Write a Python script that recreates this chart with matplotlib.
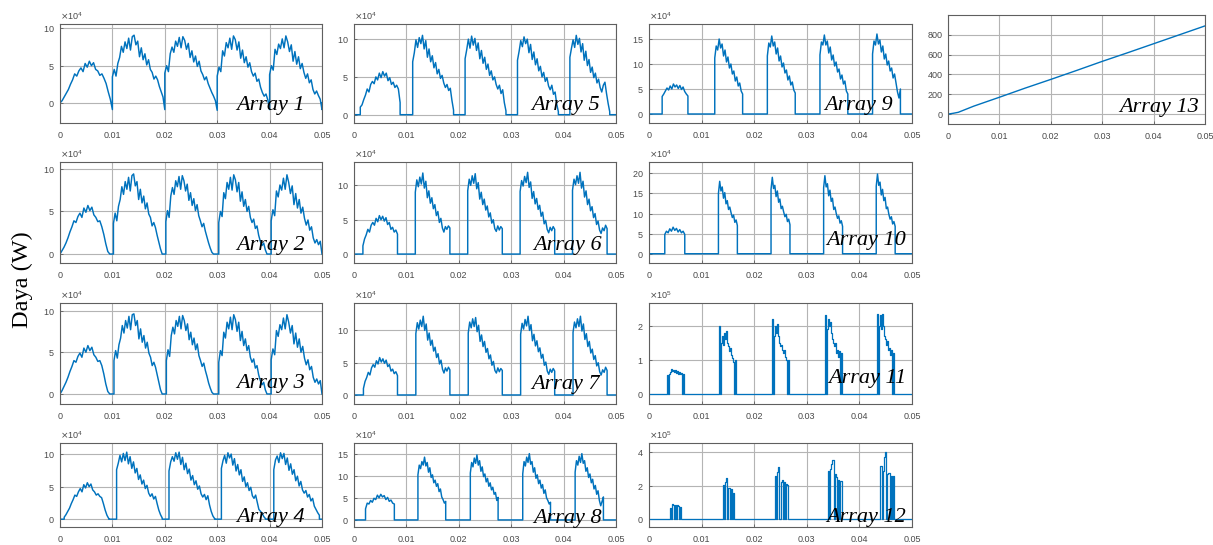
import numpy as np
import matplotlib
matplotlib.use("Agg")
import matplotlib.pyplot as plt
from matplotlib.ticker import ScalarFormatter


# Power of each PV array over time. Values of arrays 1-10 are in units of 1e4 W,
# arrays 11-12 in units of 1e5 W, array 13 in W. Each array is a list of humps:
# a hump starts/stops at the given time (s) and holds the listed samples.
X_TICKS = [0.0, 0.01, 0.02, 0.03, 0.04, 0.05]
X_TICK_LABELS = ["0", "0.01", "0.02", "0.03", "0.04", "0.05"]

A1_STARTS = [0.0, 0.0100, 0.0200, 0.0300, 0.0400]
A1_STOPS = [0.0100, 0.0200, 0.0300, 0.0400, 0.0500]
A1_HUMPS = [
    [0.0, 0.3, 0.8, 1.3, 1.8, 2.5, 3.1, 3.9, 3.6, 4.3, 4.7, 4.2, 5.3, 4.8, 5.6, 5.0, 5.4, 4.5, 4.3, 3.7, 3.9, 3.3, 2.6, 1.5, 0.5, -0.9],
    [3.5, 4.5, 3.6, 5.3, 6.1, 7.6, 6.8, 8.2, 7.3, 8.7, 7.1, 8.9, 9.1, 7.8, 8.3, 6.2, 7.4, 5.8, 6.6, 5.1, 5.8, 4.5, 4.1, 3.2, 3.6, 3.1, 2.2, 1.5, 0.8, -0.9],
    [4.0, 5.0, 4.2, 6.6, 7.5, 6.8, 8.3, 7.6, 8.8, 7.4, 8.9, 8.4, 7.2, 8.0, 6.1, 7.0, 5.5, 6.3, 4.9, 5.6, 4.3, 3.8, 3.1, 3.5, 2.6, 2.0, 1.4, 0.9, 0.3, -1.0],
    [3.6, 4.8, 4.2, 7.0, 6.3, 8.1, 7.4, 8.7, 7.2, 9.0, 8.5, 7.1, 8.2, 6.0, 7.1, 5.4, 6.2, 4.8, 5.4, 4.2, 3.6, 4.0, 2.9, 3.2, 2.1, 1.4, 0.9, 1.2, 0.4, -0.9],
    [3.8, 5.0, 4.4, 7.2, 6.5, 7.9, 7.3, 8.6, 7.4, 9.0, 8.2, 6.9, 7.8, 5.6, 6.9, 5.2, 6.2, 4.6, 5.3, 4.1, 3.3, 3.9, 2.7, 3.1, 1.8, 1.2, 1.6, 1.0, 0.5, -0.9],
]

A2_STARTS = [0.0, 0.0102, 0.0202, 0.0303, 0.0403]
A2_STOPS = [0.0095, 0.0195, 0.0293, 0.0395, 0.0500]
A2_HUMPS = [
    [0.0, 0.4, 0.8, 1.3, 1.9, 2.6, 3.2, 3.9, 3.7, 4.4, 4.8, 4.3, 5.4, 4.9, 5.7, 5.1, 5.5, 4.6, 4.3, 3.8, 3.9, 3.2, 2.3, 1.2, 0.3, 0.0],
    [3.6, 4.8, 3.9, 5.6, 6.4, 7.9, 7.0, 8.5, 7.6, 9.0, 7.4, 9.2, 9.4, 8.0, 8.5, 6.4, 7.6, 6.0, 6.8, 5.3, 6.0, 4.7, 4.3, 3.3, 3.7, 3.1, 2.2, 1.4, 0.6, 0.0],
    [3.8, 5.1, 4.3, 6.8, 7.8, 7.0, 8.6, 7.9, 9.1, 7.6, 9.2, 8.6, 7.4, 8.2, 6.3, 7.2, 5.7, 6.5, 5.1, 5.8, 4.5, 3.9, 3.2, 3.6, 2.7, 2.0, 1.3, 0.7, 0.2, 0.0],
    [3.7, 5.0, 4.4, 7.2, 6.5, 8.4, 7.6, 9.0, 7.5, 9.3, 8.7, 7.3, 8.4, 6.2, 7.3, 5.6, 6.4, 5.0, 5.6, 4.3, 3.7, 4.1, 3.0, 3.3, 2.2, 1.5, 1.0, 1.3, 0.5, 0.0],
    [3.9, 5.2, 4.5, 7.4, 6.7, 8.1, 7.5, 8.9, 7.6, 9.3, 8.4, 7.1, 8.0, 5.8, 7.1, 5.4, 6.4, 4.8, 5.5, 4.2, 3.4, 4.0, 2.8, 3.2, 1.9, 1.3, 1.7, 1.1, 1.5, 0.0],
]

A3_STARTS = [0.0, 0.0103, 0.0203, 0.0303, 0.0403]
A3_STOPS = [0.0095, 0.0195, 0.0293, 0.0395, 0.0500]
A3_HUMPS = [
    [0.0, 0.4, 0.9, 1.4, 2.0, 2.7, 3.3, 4.0, 3.8, 4.5, 4.9, 4.4, 5.5, 5.0, 5.8, 5.2, 5.6, 4.7, 4.4, 3.9, 4.0, 3.4, 2.4, 1.2, 0.3, 0.0],
    [4.0, 5.2, 4.3, 5.9, 6.7, 8.2, 7.3, 8.8, 7.9, 9.3, 7.7, 9.5, 9.6, 8.2, 8.8, 6.6, 7.8, 6.2, 7.0, 5.5, 6.2, 4.9, 4.4, 3.4, 3.8, 3.2, 2.3, 1.4, 0.5, 0.0],
    [4.0, 5.3, 4.5, 7.0, 8.0, 7.2, 8.8, 8.1, 9.3, 7.8, 9.4, 8.8, 7.6, 8.4, 6.5, 7.4, 5.9, 6.7, 5.3, 6.0, 4.6, 4.0, 3.3, 3.7, 2.8, 2.1, 1.3, 0.7, 0.2, 0.0],
    [3.8, 5.2, 4.6, 7.4, 6.7, 8.6, 7.8, 9.2, 7.7, 9.5, 8.9, 7.5, 8.6, 6.4, 7.5, 5.8, 6.6, 5.2, 5.8, 4.4, 3.8, 4.2, 3.1, 3.4, 2.3, 1.6, 1.1, 1.4, 0.5, 0.0],
    [4.1, 5.4, 4.7, 7.6, 6.9, 8.3, 7.7, 9.1, 7.8, 9.5, 8.6, 7.3, 8.2, 6.0, 7.3, 5.6, 6.6, 5.0, 5.7, 4.3, 3.5, 4.1, 2.9, 3.3, 2.0, 1.4, 1.8, 1.2, 1.6, 0.0],
]

A4_STARTS = [0.0008, 0.0108, 0.0208, 0.0308, 0.0408]
A4_STOPS = [0.0093, 0.0195, 0.0295, 0.0392, 0.0495]
A4_HUMPS = [
    [0.3, 0.7, 1.2, 1.7, 2.4, 3.0, 3.7, 3.5, 4.2, 4.7, 4.2, 5.3, 4.8, 5.6, 5.0, 5.4, 4.5, 4.2, 3.7, 3.9, 3.5, 3.3, 2.4, 1.4, 0.6, 0.1],
    [7.6, 8.6, 9.8, 8.8, 10.1, 9.0, 10.3, 8.5, 9.6, 7.8, 8.8, 7.1, 7.8, 6.1, 6.8, 5.4, 6.0, 4.7, 5.2, 4.0, 3.5, 3.9, 3.1, 3.5, 2.4, 1.4, 0.7, 0.2],
    [7.4, 8.8, 9.6, 8.9, 10.2, 9.2, 10.3, 8.4, 9.5, 7.6, 8.6, 7.0, 7.7, 6.0, 6.7, 5.3, 5.9, 4.6, 5.1, 3.9, 3.4, 3.8, 3.0, 3.6, 2.2, 1.2, 0.5, 0.1],
    [7.8, 9.0, 9.8, 8.6, 10.2, 9.4, 10.0, 8.3, 9.3, 7.4, 8.4, 6.8, 7.6, 5.8, 6.5, 5.0, 5.6, 4.4, 4.9, 3.6, 3.2, 3.7, 2.6, 1.5, 1.2, 0.9, 0.4, 0.1],
    [7.6, 9.1, 9.7, 8.7, 10.2, 9.3, 10.1, 8.4, 9.4, 7.5, 8.5, 6.9, 7.6, 5.9, 6.6, 5.1, 5.8, 4.5, 4.0, 4.4, 3.4, 3.8, 2.8, 3.2, 2.0, 1.5, 1.0, 0.6],
]

A5_STARTS = [0.0012, 0.0112, 0.0212, 0.0312, 0.0412]
A5_STOPS = [0.0088, 0.0190, 0.0290, 0.0390, 0.0488]
A5_HUMPS = [
    [1.0, 1.3, 2.0, 2.6, 3.4, 3.0, 4.0, 4.4, 4.1, 5.0, 4.6, 5.5, 4.9, 5.7, 5.1, 5.5, 4.5, 4.9, 4.0, 4.3, 3.6, 3.9, 3.4, 1.6],
    [7.0, 8.2, 9.9, 8.9, 10.2, 9.4, 10.5, 8.7, 9.8, 7.6, 8.7, 7.0, 7.8, 6.2, 6.9, 5.4, 6.0, 4.8, 5.2, 4.2, 3.6, 4.0, 3.2, 3.5, 1.9, 0.6],
    [7.4, 8.6, 10.0, 8.8, 10.4, 9.2, 10.1, 8.5, 9.5, 7.4, 8.5, 6.8, 7.6, 6.0, 6.7, 5.2, 5.8, 4.6, 5.0, 4.0, 3.4, 3.9, 2.8, 3.3, 1.6, 0.5],
    [7.2, 8.4, 9.8, 9.0, 10.3, 9.4, 10.0, 8.2, 9.3, 7.3, 8.3, 6.6, 7.4, 5.8, 6.4, 5.0, 5.6, 4.4, 4.9, 3.8, 3.3, 3.9, 2.7, 3.0, 1.4, 0.4],
    [7.6, 8.8, 9.9, 8.9, 10.5, 9.3, 10.1, 8.3, 9.4, 7.2, 8.4, 6.5, 7.3, 5.6, 6.3, 4.9, 5.5, 4.2, 4.7, 3.6, 3.0, 3.9, 4.3, 2.8, 1.5, 0.4],
]

A6_STARTS = [0.0017, 0.0117, 0.0217, 0.0317, 0.0417]
A6_STOPS = [0.0083, 0.0183, 0.0283, 0.0383, 0.0483]
A6_HUMPS = [
    [1.2, 2.2, 2.8, 3.6, 3.2, 4.2, 4.6, 4.2, 5.2, 4.7, 5.6, 5.0, 5.5, 4.8, 5.3, 4.3, 4.6, 3.6, 3.9, 3.2, 3.5, 2.9],
    [9.0, 10.8, 9.8, 11.2, 10.2, 11.8, 9.6, 10.6, 8.2, 9.2, 7.4, 8.2, 6.6, 7.2, 5.6, 6.2, 4.6, 5.2, 3.8, 3.2, 4.0, 3.6, 4.1, 3.8],
    [9.2, 10.9, 10.0, 11.4, 10.3, 11.7, 9.5, 10.4, 8.0, 9.0, 7.2, 8.0, 6.4, 7.0, 5.4, 6.0, 4.5, 5.0, 3.7, 3.3, 4.1, 3.5, 4.0, 3.7],
    [9.1, 10.7, 9.9, 11.3, 10.4, 11.9, 9.7, 10.5, 8.1, 9.1, 7.3, 8.1, 6.5, 7.1, 5.5, 6.1, 4.4, 4.9, 3.6, 3.1, 3.9, 3.4, 4.0, 3.6],
    [9.3, 10.9, 10.1, 11.4, 10.3, 11.9, 9.6, 10.6, 8.3, 9.2, 7.2, 8.0, 6.3, 6.9, 5.3, 5.9, 4.3, 4.8, 3.5, 3.0, 3.8, 3.4, 4.2, 3.7],
]

A7_STARTS = [0.0018, 0.0118, 0.0218, 0.0318, 0.0418]
A7_STOPS = [0.0083, 0.0183, 0.0283, 0.0383, 0.0483]
A7_HUMPS = [
    [1.0, 2.1, 2.7, 3.5, 3.1, 4.2, 4.7, 4.3, 5.3, 4.8, 5.8, 5.1, 5.6, 4.9, 5.4, 4.4, 4.7, 3.7, 4.0, 3.3, 3.6, 3.0],
    [9.5, 11.2, 10.2, 11.6, 10.6, 12.2, 10.0, 11.0, 8.5, 9.6, 7.7, 8.5, 6.8, 7.4, 5.8, 6.4, 4.8, 5.4, 4.0, 3.4, 4.2, 3.7, 4.3, 3.9],
    [9.6, 11.3, 10.4, 11.8, 10.6, 12.0, 9.8, 10.8, 8.3, 9.3, 7.5, 8.3, 6.6, 7.2, 5.6, 6.2, 4.6, 5.2, 3.8, 3.4, 4.2, 3.6, 4.1, 3.8],
    [9.4, 11.1, 10.2, 11.7, 10.7, 12.2, 10.0, 10.9, 8.4, 9.4, 7.6, 8.4, 6.7, 7.3, 5.7, 6.3, 4.6, 5.1, 3.7, 3.2, 4.0, 3.5, 4.1, 3.7],
    [9.7, 11.3, 10.4, 11.8, 10.6, 12.2, 9.9, 11.0, 8.6, 9.5, 7.5, 8.3, 6.5, 7.1, 5.5, 6.1, 4.5, 5.0, 3.6, 3.1, 3.9, 3.5, 4.3, 3.8],
]

A8_STARTS = [0.0022, 0.0122, 0.0222, 0.0322, 0.0422]
A8_STOPS = [0.0077, 0.0175, 0.0275, 0.0375, 0.0476]
A8_HUMPS = [
    [2.5, 3.8, 3.6, 4.4, 4.0, 4.9, 4.6, 5.6, 5.0, 5.8, 5.2, 5.5, 4.6, 5.1, 4.2, 4.5, 3.8, 3.6],
    [10.2, 12.4, 11.6, 13.2, 12.4, 14.2, 12.2, 13.0, 10.8, 11.8, 9.6, 10.2, 8.4, 9.0, 7.6, 8.2, 6.4, 7.0, 5.2, 4.6, 3.8, 4.2],
    [10.6, 13.0, 12.0, 14.0, 12.8, 14.7, 12.4, 13.4, 11.0, 12.0, 9.8, 10.4, 8.6, 9.4, 7.6, 8.4, 6.8, 7.4, 5.8, 6.2, 4.4, 5.1],
    [10.4, 13.2, 12.2, 14.2, 13.0, 15.0, 12.6, 13.2, 10.8, 11.8, 9.4, 10.2, 8.2, 9.0, 7.2, 8.0, 6.0, 6.8, 5.0, 4.4, 3.6, 4.0],
    [10.8, 13.4, 12.4, 14.4, 13.0, 15.0, 12.8, 13.4, 11.0, 11.8, 9.6, 10.4, 8.4, 9.2, 7.0, 7.8, 5.8, 6.6, 4.4, 3.2, 4.2, 5.2],
]

A9_STARTS = [0.0025, 0.0125, 0.0225, 0.0325, 0.0425]
A9_STOPS = [0.0074, 0.0178, 0.0278, 0.0378, 0.0478]
A9_HUMPS = [
    [3.5, 4.0, 4.6, 5.2, 4.8, 5.6, 5.0, 6.0, 5.4, 5.8, 5.1, 5.7, 4.9, 5.4, 4.5, 4.0, 3.6],
    [11.2, 13.6, 12.8, 15.0, 13.2, 14.0, 11.6, 12.8, 10.4, 11.4, 9.2, 10.0, 8.0, 8.6, 6.6, 7.4, 5.6, 6.2, 4.6, 4.0],
    [11.6, 14.2, 13.4, 15.6, 13.6, 14.4, 12.0, 13.2, 10.6, 11.6, 9.4, 10.2, 8.2, 8.8, 6.8, 7.6, 5.8, 6.4, 4.8, 4.2],
    [11.8, 14.4, 13.8, 15.8, 13.8, 14.6, 12.2, 13.4, 10.8, 11.8, 9.6, 10.4, 8.4, 9.0, 7.0, 7.8, 6.0, 6.6, 4.6, 4.0],
    [12.0, 14.6, 13.8, 16.0, 14.0, 14.8, 12.4, 13.6, 11.0, 12.0, 9.8, 10.6, 8.6, 9.2, 7.2, 8.0, 6.2, 4.4, 3.2, 5.0],
]

A10_STARTS = [0.0030, 0.0132, 0.0232, 0.0332, 0.0432]
A10_STOPS = [0.0068, 0.0168, 0.0268, 0.0368, 0.0468]
A10_HUMPS = [
    [4.8, 5.6, 5.2, 6.2, 5.6, 6.6, 5.8, 6.3, 5.4, 6.0, 5.2, 5.6, 4.8],
    [15.0, 18.0, 15.6, 16.6, 13.8, 15.2, 12.4, 13.2, 11.0, 11.6, 10.2, 9.0, 9.6, 7.8, 8.4, 7.0],
    [16.0, 19.0, 16.2, 17.0, 14.2, 15.6, 12.8, 13.6, 11.2, 11.8, 10.4, 9.2, 9.8, 8.0, 8.6, 7.2],
    [16.4, 19.4, 16.6, 17.4, 14.4, 15.8, 13.0, 13.8, 11.0, 11.6, 10.0, 8.8, 9.4, 7.6, 8.2, 6.8],
    [16.8, 19.8, 17.0, 17.8, 14.6, 16.0, 13.2, 14.0, 11.2, 11.6, 9.8, 8.6, 9.2, 7.4, 8.0, 6.8],
]

A11_STARTS = [0.0034, 0.0134, 0.0234, 0.0334, 0.0434]
A11_STOPS = [0.0066, 0.0166, 0.0266, 0.0366, 0.0466]
A11_HUMPS = [
    [0.55, 0.0, 0.6, 0.65, 0.75, 0.68, 0.72, 0.64, 0.70, 0.62, 0.68, 0.60, 0.66, 0.58, 0.62, 0.0, 0.6],
    [2.0, 0.0, 1.5, 1.7, 1.45, 1.8, 1.6, 1.85, 1.5, 1.4, 1.25, 1.35, 1.15, 1.05, 0.95, 0.0, 1.0],
    [2.2, 0.0, 1.7, 2.0, 1.8, 2.05, 1.7, 1.5, 1.4, 1.45, 1.3, 1.2, 1.3, 1.1, 1.0, 0.0, 1.0],
    [2.3, 0.0, 1.9, 2.2, 2.0, 2.1, 1.8, 1.6, 1.5, 1.4, 1.5, 1.2, 1.3, 1.1, 1.25, 0.0, 1.2],
    [2.35, 0.0, 2.0, 2.3, 1.9, 2.35, 2.0, 1.7, 1.6, 1.45, 1.55, 1.3, 1.35, 1.15, 1.3, 0.0, 1.2],
]

A12_STARTS = [0.0040, 0.0140, 0.0240, 0.0340, 0.0440]
A12_STOPS = [0.0060, 0.0162, 0.0264, 0.0366, 0.0466]
A12_HUMPS = [
    [0.65, 0.0, 0.9, 0.85, 0.0, 0.88, 0.0, 0.85, 0.8, 0.0, 0.75],
    [2.05, 0.0, 2.2, 2.45, 0.0, 1.9, 1.85, 0.0, 1.8, 0.0, 1.55],
    [2.6, 0.0, 2.8, 3.1, 0.0, 2.2, 2.35, 0.0, 2.2, 0.0, 2.1, 2.05],
    [2.9, 0.0, 3.0, 3.3, 3.55, 0.0, 2.7, 2.5, 0.0, 2.35, 0.0, 2.3],
    [3.2, 0.0, 2.9, 3.7, 4.0, 0.0, 2.7, 2.75, 0.0, 2.6, 0.0, 2.6],
]

A13_T = [0.0, 0.001, 0.002, 0.005, 0.01, 0.015, 0.02, 0.025, 0.03, 0.035, 0.04, 0.045, 0.05]
A13_P = [0, 8, 18, 80, 170, 262, 350, 440, 532, 620, 710, 800, 890]

# exponent of the unit, y limits (in those units) and y ticks per array
EXPONENTS = [4, 4, 4, 4, 4, 4, 4, 4, 4, 4, 5, 5]
Y_LIMITS = [(-2.7, 10.6), (-1.05, 10.8), (-1.2, 10.9), (-1.2, 11.7),
            (-1.1, 12.0), (-1.3, 13.4), (-1.4, 14.25), (-1.6, 17.4),
            (-1.8, 18.0), (-2.3, 22.8), (-0.28, 2.66), (-0.46, 4.56)]
Y_TICKS = [[0, 5, 10]] * 7 + [[0, 5, 10, 15], [0, 5, 10, 15],
                               [0, 5, 10, 15, 20], [0, 1, 2], [0, 2, 4]]
A13_YLIM = (-100, 1000)
A13_YTICKS = [0, 200, 400, 600, 800]

LINE_COLOR = "#0072BD"
W, H = 1213, 545


def build_series(starts, stops, humps):
    # samples spread evenly over each hump, vertical edges, zero between humps
    t, p = [0.0], [0.0]
    for start, stop, vals in zip(starts, stops, humps):
        t.append(start)
        p.append(0.0)
        t.extend(np.linspace(start, stop, len(vals)))
        p.extend(vals)
        t.append(stop)
        p.append(0.0)
    if t[-1] < 0.05:
        t.append(0.05)
        p.append(0.0)
    return np.array(t), np.array(p)


def build_pulses(starts, stops, humps):
    # sample-and-hold version used for the pulse trains of arrays 11 and 12
    t, p = [0.0], [0.0]
    for start, stop, vals in zip(starts, stops, humps):
        t.extend(np.linspace(start, stop, len(vals) + 1)[:-1])
        p.extend(vals)
        t.append(stop)
        p.append(0.0)
    t.append(0.05)
    p.append(0.0)
    return np.array(t), np.array(p)


def make_axes(fig, x0, x1, y0, y1):
    return fig.add_axes([x0 / W, 1 - y1 / H, (x1 - x0) / W, (y1 - y0) / H])


def style_axes(ax):
    ax.set_xlim(0, 0.05)
    ax.set_xticks(X_TICKS)
    ax.set_xticklabels(X_TICK_LABELS)
    ax.grid(True, color="#b4b4b4", linewidth=0.8)
    ax.set_axisbelow(True)
    for spine in ax.spines.values():
        spine.set_color("#5f5f5f")
        spine.set_linewidth(0.8)
    ax.tick_params(axis="both", direction="in", length=2.5, width=0.6,
                   colors="#5f5f5f", labelcolor="#4a4a4a", labelsize=6.5)
    ax.tick_params(axis="x", pad=6)
    ax.tick_params(axis="y", pad=4)


def add_name(ax, name, xr, yb):
    ax.text(xr, yb, name, transform=ax.transAxes, ha="right", va="baseline",
            fontsize=16, fontstyle="italic", family="Liberation Serif",
            color="black", zorder=5)


def main():
    plt.rcParams["font.family"] = ["Liberation Sans", "DejaVu Sans"]
    fig = plt.figure(figsize=(W / 100, H / 100), dpi=100)

    panels = [
        (A1_STARTS, A1_STOPS, A1_HUMPS),
        (A2_STARTS, A2_STOPS, A2_HUMPS),
        (A3_STARTS, A3_STOPS, A3_HUMPS),
        (A4_STARTS, A4_STOPS, A4_HUMPS),
        (A5_STARTS, A5_STOPS, A5_HUMPS),
        (A6_STARTS, A6_STOPS, A6_HUMPS),
        (A7_STARTS, A7_STOPS, A7_HUMPS),
        (A8_STARTS, A8_STOPS, A8_HUMPS),
        (A9_STARTS, A9_STOPS, A9_HUMPS),
        (A10_STARTS, A10_STOPS, A10_HUMPS),
        (A11_STARTS, A11_STOPS, A11_HUMPS),
        (A12_STARTS, A12_STOPS, A12_HUMPS),
    ]
    cols = [(60, 322), (354, 616), (649, 912)]
    rows = [(24, 123), (162, 263), (303, 404), (443, 527)]
    name_pos = [(0.935, 0.13), (0.935, 0.13), (0.935, 0.16), (0.935, 0.06),
                (0.94, 0.13), (0.946, 0.13), (0.94, 0.15), (0.946, 0.05),
                (0.928, 0.13), (0.977, 0.18), (0.977, 0.21), (0.977, 0.06)]

    for i, (starts, stops, humps) in enumerate(panels):
        x0, x1 = cols[i // 4]
        y0, y1 = rows[i % 4]
        ax = make_axes(fig, x0, x1, y0, y1)
        scale = 10.0 ** EXPONENTS[i]
        if i >= 10:
            t, p = build_pulses(starts, stops, humps)
            ax.plot(t, p * scale, color=LINE_COLOR, linewidth=0.9, drawstyle="steps-post")
        else:
            t, p = build_series(starts, stops, humps)
            ax.plot(t, p * scale, color=LINE_COLOR, linewidth=1.05)
        style_axes(ax)
        lo, hi = Y_LIMITS[i]
        ax.set_ylim(lo * scale, hi * scale)
        ax.set_yticks([v * scale for v in Y_TICKS[i]])
        fmt = ScalarFormatter(useMathText=True)
        fmt.set_powerlimits((EXPONENTS[i], EXPONENTS[i]))
        ax.yaxis.set_major_formatter(fmt)
        ax.yaxis.get_offset_text().set_fontsize(6.5)
        ax.yaxis.get_offset_text().set_color("#4a4a4a")
        add_name(ax, f"Array {i + 1}", *name_pos[i])

    ax13 = make_axes(fig, 948, 1205, 15, 124)
    ax13.plot(A13_T, A13_P, color=LINE_COLOR, linewidth=1.0)
    style_axes(ax13)
    ax13.set_ylim(*A13_YLIM)
    ax13.set_yticks(A13_YTICKS)
    add_name(ax13, "Array 13", 0.977, 0.11)

    fig.text(22 / W, 1 - 280 / H, "Daya (W)", rotation=90, ha="center", va="center",
             fontsize=17.5, family="Liberation Serif")

    fig.savefig("out.png", dpi=100)
    plt.close(fig)


if __name__ == "__main__":
    main()
